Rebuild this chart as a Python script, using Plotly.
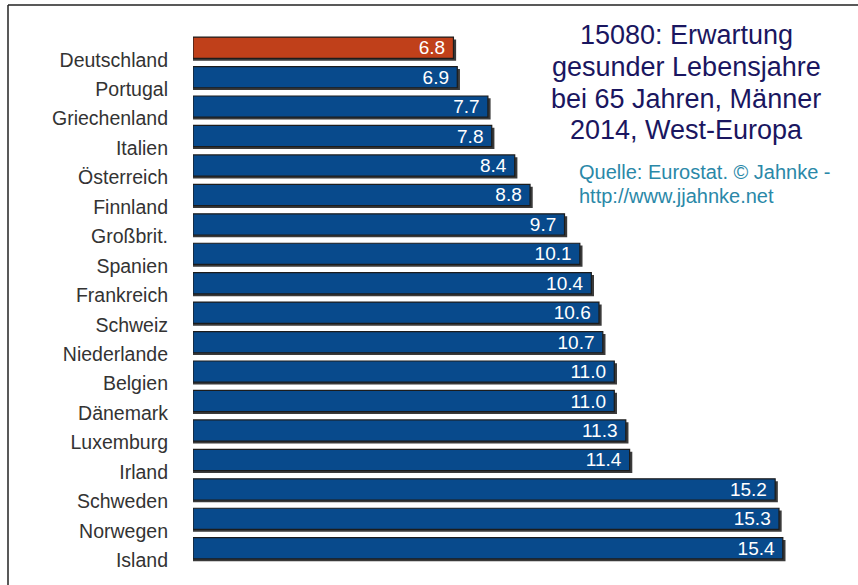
import plotly.graph_objects as go

# Healthy life years at age 65, men, 2014 (Western Europe)
countries = ["Deutschland", "Portugal", "Griechenland", "Italien", "Österreich",
             "Finnland", "Großbrit.", "Spanien", "Frankreich", "Schweiz",
             "Niederlande", "Belgien", "Dänemark", "Luxemburg", "Irland",
             "Schweden", "Norwegen", "Island"]
years = [6.8, 6.9, 7.7, 7.8, 8.4, 8.8, 9.7, 10.1, 10.4, 10.6,
         10.7, 11.0, 11.0, 11.3, 11.4, 15.2, 15.3, 15.4]
highlight = "Deutschland"

title_lines = ["15080: Erwartung", "gesunder Lebensjahre",
               "bei 65 Jahren, Männer", "2014, West-Europa"]
source_lines = ["Quelle: Eurostat. © Jahnke -", "http://www.jjahnke.net"]

BLUE = "#084a8c"
RED = "#c0401a"
bar_colors = [RED if c == highlight else BLUE for c in countries]
labels = [f"{v:.1f}\u00a0" for v in years]

W, H = 858, 585
ML, MR, MT, MB = 193, 0, 33, 22
BW = 0.72
FONT = "Liberation Sans, Arial, sans-serif"

fig = go.Figure()

# drop shadow behind each bar
fig.add_trace(go.Bar(
    x=[v + 0.07 for v in years], y=countries, orientation="h",
    width=BW, offset=-BW / 2 + 0.08,
    marker=dict(color="#3a3a3a", line=dict(width=0)),
    hoverinfo="skip", showlegend=False,
))

fig.add_trace(go.Bar(
    x=years, y=countries, orientation="h",
    width=BW, offset=-BW / 2,
    marker=dict(color=bar_colors, line=dict(color="#1c1c1c", width=1.2)),
    text=labels, textposition="inside", insidetextanchor="end",
    constraintext="none", cliponaxis=False,
    textfont=dict(family=FONT, size=19, color="white"),
    showlegend=False,
))

plot_w = W - ML - MR
fig.update_layout(
    width=W, height=H,
    margin=dict(l=ML, r=MR, t=MT, b=MB),
    paper_bgcolor="white", plot_bgcolor="white",
    barmode="overlay",
    uniformtext=dict(mode=False),
    xaxis=dict(range=[0, plot_w / 38.3], visible=False, fixedrange=True),
    yaxis=dict(autorange="reversed", showgrid=False, showline=False,
               ticks="", ticklabelstandoff=24, ticklabelshift=-12,
               tickfont=dict(family=FONT, size=19.5, color="#333333")),
    font=dict(family=FONT),
)

plot_h = H - MT - MB


def py(px):
    """Convert a pixel row (from top of page) to paper y."""
    return (H - MB - px) / plot_h


def pxx(px):
    """Convert a pixel column to paper x."""
    return (px - ML) / plot_w


for line, yc in zip(title_lines, [35, 67, 99, 130]):
    fig.add_annotation(text=line, xref="paper", yref="paper",
                       x=pxx(686), y=py(yc), xanchor="center", yanchor="middle",
                       showarrow=False,
                       font=dict(family=FONT, size=27, color="#1a1660"))

for line, yc in zip(source_lines, [172, 196]):
    fig.add_annotation(text=line, xref="paper", yref="paper",
                       x=pxx(577), y=py(yc), xanchor="left", yanchor="middle",
                       showarrow=False,
                       font=dict(family=FONT, size=20, color="#2a88a8"))

# frame lines along the top and left edges
fig.add_shape(type="line", xref="paper", yref="paper",
              x0=pxx(8), x1=pxx(W + 5), y0=py(5), y1=py(5),
              line=dict(color="#222222", width=1.5))
fig.add_shape(type="line", xref="paper", yref="paper",
              x0=pxx(8), x1=pxx(8), y0=py(5), y1=py(H + 5),
              line=dict(color="#222222", width=1.5))

fig.write_html("out.html")
